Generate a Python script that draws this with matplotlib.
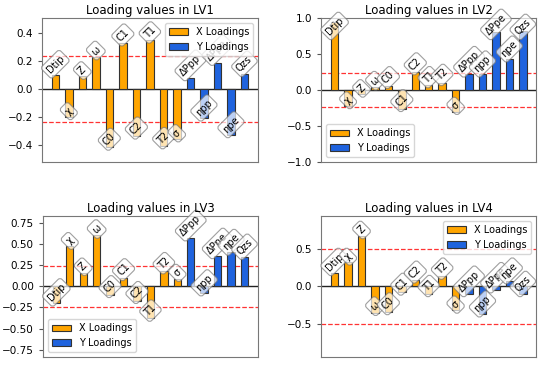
import matplotlib
matplotlib.use("Agg")
import matplotlib.pyplot as plt
import numpy as np

x_names = ["Dtip", "χ", "Z", "ω", "C0", "C1", "C2", "T1", "T2", "σ"]
y_names = ["ΔPpp", "ηpp", "ΔPpe", "ηpe", "Qzs"]

lv1_x = [0.10, -0.20, 0.09, 0.23, -0.42, 0.33, -0.34, 0.35, -0.41, -0.36]
lv1_y = [0.08, -0.21, 0.19, -0.33, 0.11]
lv2_x = [0.95, -0.22, -0.06, 0.04, 0.06, -0.26, 0.25, 0.07, 0.10, -0.30]
lv2_y = [0.22, 0.22, 0.80, 0.43, 0.82]
lv3_x = [-0.20, 0.47, 0.16, 0.60, -0.10, 0.10, -0.17, -0.38, 0.18, 0.09]
lv3_y = [0.57, -0.08, 0.36, 0.40, 0.35]
lv4_x = [0.18, 0.32, 0.67, -0.35, -0.34, -0.08, 0.08, -0.10, 0.13, -0.32]
lv4_y = [-0.10, -0.37, -0.05, 0.07, -0.10]

titles = ["Loading values in LV1", "Loading values in LV2",
          "Loading values in LV3", "Loading values in LV4"]
thresholds = [0.24, 0.24, 0.245, 0.5]
ylims = [(-0.525, 0.51), (-1.0, 1.0), (-0.836, 0.83), (-0.94, 0.934)]
label_caps = [1.0, 0.74, 1.0, 1.0]
legend_locs = ["upper right", "lower left", "lower left", "upper right"]
yticks = [[-0.4, -0.2, 0.0, 0.2, 0.4], [-1.0, -0.5, 0.0, 0.5, 1.0],
          [-0.75, -0.5, -0.25, 0.0, 0.25, 0.5, 0.75], [-0.5, 0.0, 0.5]]

data = [(lv1_x, lv1_y), (lv2_x, lv2_y), (lv3_x, lv3_y), (lv4_x, lv4_y)]

orange = "#FFA500"
blue = "#1F63DE"

fig = plt.figure(figsize=(5.5, 3.68), dpi=100)
positions = [
    [0.076, 0.56, 0.393, 0.391],
    [0.584, 0.56, 0.391, 0.391],
    [0.078, 0.03, 0.391, 0.383],
    [0.584, 0.03, 0.391, 0.383],
]

for i in range(4):
    ax = fig.add_axes(positions[i])
    xv, yv = data[i]
    nx = len(xv)
    xpos = np.arange(nx)
    ypos = np.arange(nx, nx + len(yv))
    ax.bar(xpos, xv, width=0.55, color=orange, edgecolor="#333333",
           linewidth=0.8, label="X Loadings", zorder=2)
    ax.bar(ypos, yv, width=0.55, color=blue, edgecolor="#333333",
           linewidth=0.8, label="Y Loadings", zorder=2)
    names = x_names + y_names
    vals = list(xv) + list(yv)
    for p, v, n in zip(list(xpos) + list(ypos), vals, names):
        ax.text(p, min(v, label_caps[i]), n, rotation=45, ha="center",
                va="bottom", fontsize=7, zorder=3,
                bbox=dict(boxstyle="round,pad=0.3", facecolor="white",
                          edgecolor="#777777", alpha=0.7, linewidth=0.8))
    ax.axhline(0, color="#222222", linewidth=1.0, zorder=1)
    t = thresholds[i]
    ax.axhline(t, color="red", linestyle="--", linewidth=0.9, alpha=0.8, zorder=1)
    ax.axhline(-t, color="red", linestyle="--", linewidth=0.9, alpha=0.8, zorder=1)
    ax.set_xlim(-1, nx + len(yv))
    ax.set_ylim(*ylims[i])
    ax.set_yticks(yticks[i])
    ax.set_xticks([])
    ax.tick_params(axis="y", labelsize=7.5, length=3, color="#555555")
    for s in ax.spines.values():
        s.set_color("#777777")
    ax.set_title(titles[i], fontsize=8.5, pad=3)
    ax.legend(loc=legend_locs[i], fontsize=7, handlelength=2.0)

fig.savefig("out.png", dpi=100)
